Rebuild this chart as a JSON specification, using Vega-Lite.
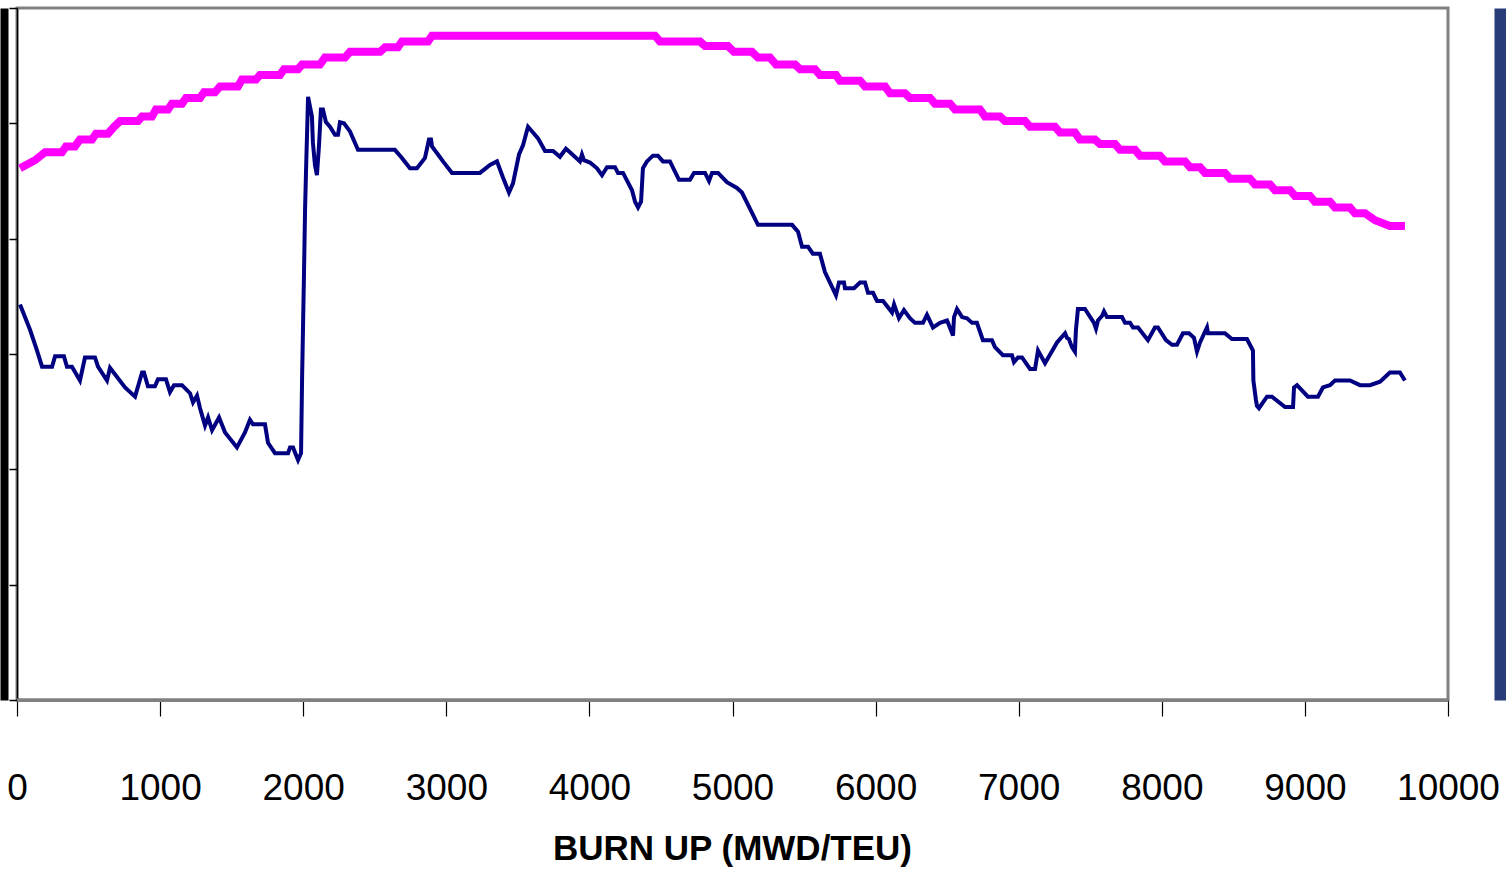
{
  "$schema": "https://vega.github.io/schema/vega-lite/v6.json",
  "width": 1431,
  "height": 692,
  "autosize": {"type": "none"},
  "padding": {"left": 17, "top": 8, "right": 58, "bottom": 178},
  "background": "white",
  "config": {
    "view": {"stroke": "#808080", "strokeWidth": 3},
    "axis": {"grid": false},
    "axisBottom": {
      "format": "d",
      "domainColor": "#808080", "domainWidth": 3,
      "tickColor": "#000000", "tickSize": 16, "tickWidth": 1.2,
      "labelFont": "Liberation Sans, Arial, sans-serif",
      "labelFontSize": 37, "labelColor": "#000000",
      "labelBaseline": "alphabetic", "labelPadding": 83,
      "labelFlush": false, "labelOverlap": false, "labelBound": false,
      "titleFont": "Liberation Sans, Arial, sans-serif",
      "titleFontSize": 35, "titleFontWeight": "bold", "titleColor": "#000000",
      "titleBaseline": "alphabetic", "titleY": 159, "titleX": 715
    }
  },
  "datasets": {
    "blue": [
      {"b":21,"v":3.43},{"b":91,"v":3.21},{"b":140,"v":3.03},{"b":175,"v":2.89},{"b":245,"v":2.89},{"b":266,"v":2.98},{"b":328,"v":2.98},{"b":349,"v":2.89},{"b":384,"v":2.89},{"b":440,"v":2.77},{"b":475,"v":2.97},{"b":545,"v":2.97},{"b":566,"v":2.89},{"b":629,"v":2.77},{"b":650,"v":2.88},{"b":755,"v":2.71},{"b":825,"v":2.63},{"b":874,"v":2.84},{"b":887,"v":2.84},{"b":915,"v":2.72},{"b":964,"v":2.72},{"b":985,"v":2.78},{"b":1041,"v":2.78},{"b":1069,"v":2.67},{"b":1097,"v":2.73},{"b":1153,"v":2.73},{"b":1209,"v":2.66},{"b":1230,"v":2.58},{"b":1258,"v":2.64},{"b":1279,"v":2.53},{"b":1314,"v":2.38},{"b":1335,"v":2.45},{"b":1363,"v":2.34},{"b":1412,"v":2.45},{"b":1454,"v":2.32},{"b":1537,"v":2.19},{"b":1593,"v":2.32},{"b":1628,"v":2.43},{"b":1649,"v":2.39},{"b":1733,"v":2.39},{"b":1754,"v":2.23},{"b":1803,"v":2.14},{"b":1894,"v":2.14},{"b":1908,"v":2.19},{"b":1929,"v":2.19},{"b":1964,"v":2.08},{"b":1985,"v":2.14},{"b":1992,"v":2.77},{"b":2006,"v":3.73},{"b":2013,"v":4.25},{"b":2020,"v":4.60},{"b":2034,"v":5.23},{"b":2061,"v":5.06},{"b":2068,"v":4.83},{"b":2082,"v":4.64},{"b":2096,"v":4.55},{"b":2110,"v":4.80},{"b":2124,"v":5.12},{"b":2138,"v":5.12},{"b":2159,"v":5.01},{"b":2187,"v":4.97},{"b":2222,"v":4.90},{"b":2243,"v":4.90},{"b":2257,"v":5.01},{"b":2285,"v":5.00},{"b":2327,"v":4.93},{"b":2383,"v":4.77},{"b":2641,"v":4.77},{"b":2690,"v":4.70},{"b":2746,"v":4.61},{"b":2795,"v":4.61},{"b":2851,"v":4.70},{"b":2879,"v":4.86},{"b":2893,"v":4.86},{"b":2900,"v":4.80},{"b":2942,"v":4.73},{"b":2977,"v":4.67},{"b":3040,"v":4.57},{"b":3235,"v":4.57},{"b":3305,"v":4.64},{"b":3354,"v":4.67},{"b":3396,"v":4.53},{"b":3438,"v":4.40},{"b":3466,"v":4.48},{"b":3508,"v":4.73},{"b":3536,"v":4.81},{"b":3571,"v":4.97},{"b":3606,"v":4.92},{"b":3641,"v":4.87},{"b":3690,"v":4.76},{"b":3746,"v":4.76},{"b":3794,"v":4.71},{"b":3836,"v":4.78},{"b":3864,"v":4.75},{"b":3934,"v":4.67},{"b":3948,"v":4.73},{"b":3962,"v":4.68},{"b":4004,"v":4.66},{"b":4053,"v":4.61},{"b":4088,"v":4.55},{"b":4123,"v":4.62},{"b":4179,"v":4.62},{"b":4200,"v":4.57},{"b":4235,"v":4.57},{"b":4298,"v":4.42},{"b":4319,"v":4.32},{"b":4340,"v":4.27},{"b":4361,"v":4.32},{"b":4374,"v":4.61},{"b":4402,"v":4.67},{"b":4444,"v":4.72},{"b":4479,"v":4.72},{"b":4514,"v":4.67},{"b":4563,"v":4.67},{"b":4626,"v":4.51},{"b":4703,"v":4.51},{"b":4731,"v":4.57},{"b":4808,"v":4.57},{"b":4836,"v":4.50},{"b":4857,"v":4.57},{"b":4899,"v":4.57},{"b":4961,"v":4.49},{"b":5031,"v":4.44},{"b":5066,"v":4.40},{"b":5178,"v":4.12},{"b":5416,"v":4.12},{"b":5458,"v":4.06},{"b":5486,"v":3.93},{"b":5528,"v":3.93},{"b":5562,"v":3.87},{"b":5611,"v":3.87},{"b":5646,"v":3.71},{"b":5723,"v":3.51},{"b":5744,"v":3.62},{"b":5779,"v":3.62},{"b":5786,"v":3.57},{"b":5849,"v":3.57},{"b":5891,"v":3.62},{"b":5926,"v":3.62},{"b":5947,"v":3.53},{"b":5982,"v":3.53},{"b":6010,"v":3.46},{"b":6052,"v":3.46},{"b":6115,"v":3.36},{"b":6129,"v":3.43},{"b":6163,"v":3.31},{"b":6198,"v":3.38},{"b":6240,"v":3.31},{"b":6275,"v":3.27},{"b":6331,"v":3.27},{"b":6359,"v":3.34},{"b":6401,"v":3.23},{"b":6450,"v":3.27},{"b":6499,"v":3.29},{"b":6506,"v":3.27},{"b":6541,"v":3.16},{"b":6548,"v":3.32},{"b":6569,"v":3.39},{"b":6604,"v":3.32},{"b":6639,"v":3.31},{"b":6674,"v":3.27},{"b":6708,"v":3.27},{"b":6750,"v":3.12},{"b":6813,"v":3.12},{"b":6834,"v":3.06},{"b":6890,"v":2.99},{"b":6953,"v":2.99},{"b":6967,"v":2.93},{"b":6995,"v":2.97},{"b":7023,"v":2.97},{"b":7079,"v":2.87},{"b":7114,"v":2.87},{"b":7135,"v":3.03},{"b":7184,"v":2.92},{"b":7268,"v":3.10},{"b":7324,"v":3.18},{"b":7337,"v":3.14},{"b":7351,"v":3.13},{"b":7372,"v":3.06},{"b":7393,"v":3.02},{"b":7400,"v":3.21},{"b":7414,"v":3.39},{"b":7463,"v":3.39},{"b":7526,"v":3.27},{"b":7540,"v":3.22},{"b":7554,"v":3.29},{"b":7582,"v":3.33},{"b":7596,"v":3.37},{"b":7617,"v":3.32},{"b":7722,"v":3.32},{"b":7743,"v":3.27},{"b":7778,"v":3.27},{"b":7799,"v":3.23},{"b":7834,"v":3.23},{"b":7903,"v":3.12},{"b":7952,"v":3.23},{"b":7973,"v":3.23},{"b":8029,"v":3.12},{"b":8071,"v":3.08},{"b":8106,"v":3.08},{"b":8148,"v":3.18},{"b":8190,"v":3.18},{"b":8225,"v":3.14},{"b":8246,"v":3.02},{"b":8267,"v":3.10},{"b":8316,"v":3.23},{"b":8323,"v":3.18},{"b":8441,"v":3.18},{"b":8490,"v":3.13},{"b":8595,"v":3.13},{"b":8637,"v":3.03},{"b":8640,"v":2.77},{"b":8658,"v":2.60},{"b":8665,"v":2.55},{"b":8679,"v":2.53},{"b":8735,"v":2.63},{"b":8770,"v":2.63},{"b":8861,"v":2.54},{"b":8917,"v":2.54},{"b":8924,"v":2.71},{"b":8945,"v":2.73},{"b":9021,"v":2.63},{"b":9091,"v":2.63},{"b":9126,"v":2.71},{"b":9175,"v":2.73},{"b":9210,"v":2.77},{"b":9315,"v":2.77},{"b":9385,"v":2.73},{"b":9455,"v":2.73},{"b":9525,"v":2.76},{"b":9594,"v":2.84},{"b":9664,"v":2.84},{"b":9699,"v":2.77}
    ],
    "pink": [
      {"b":21,"v":4.61},{"b":126,"v":4.68},{"b":196,"v":4.75},{"b":314,"v":4.75},{"b":342,"v":4.80},{"b":405,"v":4.80},{"b":440,"v":4.86},{"b":524,"v":4.86},{"b":552,"v":4.91},{"b":636,"v":4.91},{"b":678,"v":4.97},{"b":720,"v":5.02},{"b":846,"v":5.02},{"b":874,"v":5.06},{"b":943,"v":5.06},{"b":971,"v":5.12},{"b":1055,"v":5.12},{"b":1083,"v":5.17},{"b":1153,"v":5.17},{"b":1181,"v":5.22},{"b":1279,"v":5.22},{"b":1307,"v":5.27},{"b":1384,"v":5.27},{"b":1419,"v":5.32},{"b":1544,"v":5.32},{"b":1572,"v":5.38},{"b":1670,"v":5.38},{"b":1698,"v":5.42},{"b":1838,"v":5.42},{"b":1866,"v":5.47},{"b":1964,"v":5.47},{"b":1992,"v":5.51},{"b":2117,"v":5.51},{"b":2152,"v":5.57},{"b":2292,"v":5.57},{"b":2327,"v":5.62},{"b":2537,"v":5.62},{"b":2572,"v":5.66},{"b":2662,"v":5.66},{"b":2690,"v":5.71},{"b":2872,"v":5.71},{"b":2900,"v":5.76},{"b":4458,"v":5.76},{"b":4493,"v":5.71},{"b":4773,"v":5.71},{"b":4808,"v":5.67},{"b":4968,"v":5.67},{"b":5010,"v":5.62},{"b":5136,"v":5.62},{"b":5178,"v":5.57},{"b":5262,"v":5.57},{"b":5304,"v":5.51},{"b":5437,"v":5.51},{"b":5472,"v":5.47},{"b":5576,"v":5.47},{"b":5611,"v":5.42},{"b":5723,"v":5.42},{"b":5751,"v":5.37},{"b":5891,"v":5.37},{"b":5926,"v":5.32},{"b":6066,"v":5.32},{"b":6101,"v":5.26},{"b":6205,"v":5.26},{"b":6240,"v":5.22},{"b":6380,"v":5.22},{"b":6415,"v":5.17},{"b":6520,"v":5.17},{"b":6555,"v":5.12},{"b":6729,"v":5.12},{"b":6764,"v":5.06},{"b":6869,"v":5.06},{"b":6904,"v":5.02},{"b":7044,"v":5.02},{"b":7079,"v":4.97},{"b":7254,"v":4.97},{"b":7289,"v":4.92},{"b":7393,"v":4.92},{"b":7428,"v":4.86},{"b":7533,"v":4.86},{"b":7568,"v":4.82},{"b":7673,"v":4.82},{"b":7708,"v":4.77},{"b":7813,"v":4.77},{"b":7848,"v":4.72},{"b":7987,"v":4.72},{"b":8022,"v":4.67},{"b":8162,"v":4.67},{"b":8197,"v":4.62},{"b":8267,"v":4.62},{"b":8302,"v":4.57},{"b":8441,"v":4.57},{"b":8477,"v":4.52},{"b":8616,"v":4.52},{"b":8651,"v":4.47},{"b":8756,"v":4.47},{"b":8791,"v":4.42},{"b":8896,"v":4.42},{"b":8931,"v":4.37},{"b":9035,"v":4.37},{"b":9070,"v":4.32},{"b":9175,"v":4.32},{"b":9210,"v":4.27},{"b":9315,"v":4.27},{"b":9350,"v":4.22},{"b":9420,"v":4.22},{"b":9490,"v":4.16},{"b":9594,"v":4.11},{"b":9699,"v":4.11}
    ]
  },
  "layer": [
    {
      "data": {"name": "blue"},
      "mark": {"type": "line", "color": "#000080", "strokeWidth": 4},
      "encoding": {
        "x": {
          "field": "b", "type": "quantitative",
          "scale": {"domain": [0, 10000]},
          "axis": {"orient": "bottom", "title": "BURN UP (MWD/TEU)", "values": [0,1000,2000,3000,4000,5000,6000,7000,8000,9000,10000]}
        },
        "y": {
          "field": "v", "type": "quantitative",
          "scale": {"domain": [0, 6], "nice": false, "zero": false},
          "axis": {
            "orient": "left",
            "values": [0,1,2,3,4,5,6],
            "labels": false, "title": null,
            "domainColor": "#000000", "domainWidth": 1.5,
            "tickColor": "#000000", "tickSize": 8, "tickWidth": 1.5
          }
        }
      }
    },
    {
      "data": {"name": "pink"},
      "mark": {"type": "line", "color": "#ff00ff", "strokeWidth": 8},
      "encoding": {
        "x": {
          "field": "b", "type": "quantitative",
          "scale": {"domain": [0, 10000]},
          "axis": {"orient": "bottom", "title": "BURN UP (MWD/TEU)", "values": [0,1000,2000,3000,4000,5000,6000,7000,8000,9000,10000]}
        },
        "y": {
          "field": "v", "type": "quantitative",
          "scale": {"domain": [0, 6], "nice": false, "zero": false},
          "axis": {
            "orient": "left", "offset": 13,
            "labels": false, "ticks": false, "title": null,
            "domainColor": "#000000", "domainWidth": 8
          }
        }
      }
    },
    {
      "data": {"values": [{}]},
      "mark": {"type": "rule", "color": "#808080", "strokeWidth": 3},
      "encoding": {
        "y": {
          "datum": 0, "type": "quantitative",
          "scale": {"domain": [0, 6], "nice": false, "zero": false},
          "axis": {
            "orient": "right", "offset": 52,
            "labels": false, "ticks": false, "title": null,
            "domainColor": "#283c7a", "domainWidth": 12
          }
        }
      }
    }
  ],
  "resolve": {"scale": {"y": "independent"}}
}
